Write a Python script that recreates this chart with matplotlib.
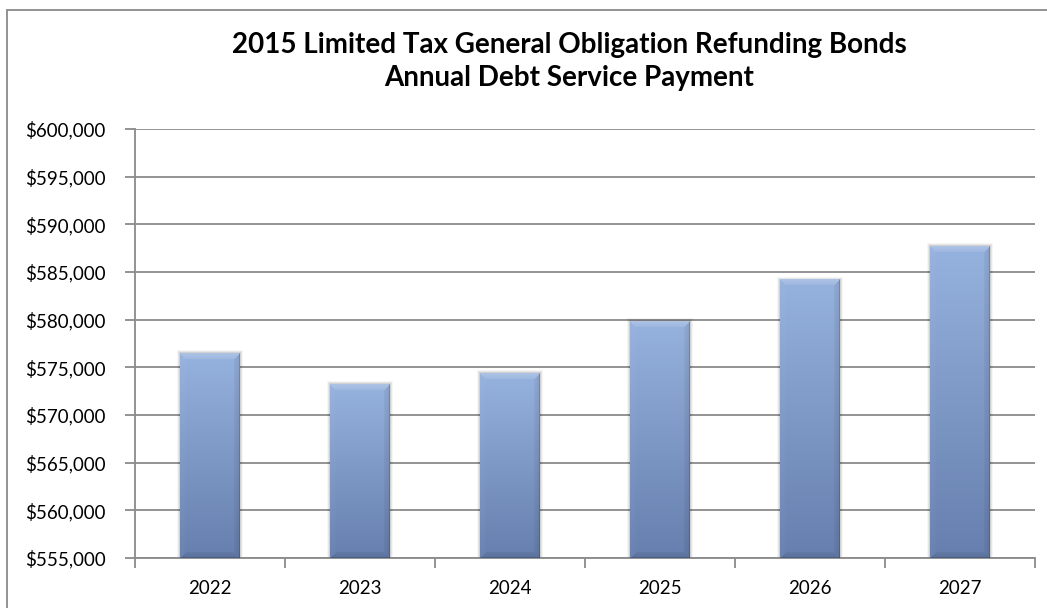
import numpy as np
import matplotlib.pyplot as plt
from matplotlib.patches import Rectangle
from matplotlib.ticker import FuncFormatter, MultipleLocator, FixedLocator

years = ['2022', '2023', '2024', '2025', '2026', '2027']
payments = [576500, 573200, 574400, 579850, 584200, 587700]

y_min, y_max, y_step = 555000, 600000, 5000

title_1 = '2015 Limited Tax General Obligation Refunding Bonds'
title_2 = 'Annual Debt Service Payment'

plt.rcParams['font.family'] = ['Lato', 'DejaVu Sans']

W, H = 1047, 608
grid_grey = '#8a8a8a'


def bar_image(w_px, h_px, bevel=6):
    '''Vertical blue gradient with a bevelled rim, as an RGB array.'''
    u = np.arange(w_px)[None, :] + 0.5
    v = np.arange(h_px)[:, None] + 0.5
    t = (v / h_px)[..., None]
    top_c = np.array([150, 178, 222]) / 255
    bot_c = np.array([102, 127, 174]) / 255
    img = top_c * (1 - t) + bot_c * t
    img = np.broadcast_to(img, (h_px, w_px, 3)).copy()

    dt, dl, dr, db = np.broadcast_arrays(v, u, w_px - u, h_px - v)
    d = np.stack([dt, dl, dr, db])
    nearest = d.argmin(0)
    in_rim = d.min(0) < bevel
    shifts = [0.22, 0.03, -0.10, -0.12]
    for k, s in enumerate(shifts):
        m = in_rim & (nearest == k)
        # fade the rim effect towards the inside of the bar
        fade = 1 - d.min(0)[m] / bevel * 0.6
        if s > 0:
            img[m] = img[m] + (1 - img[m]) * (s * fade)[:, None]
        else:
            img[m] = img[m] * (1 + s * fade)[:, None]
    # thin dark outline on the right and bottom
    img[:, -1] *= 0.85
    img[-1, :] *= 0.85
    return np.clip(img, 0, 1)


fig = plt.figure(figsize=(W / 100, H / 100), dpi=100)
ax = fig.add_axes([135 / W, 1 - 558 / H, 900 / W, (558 - 129) / H])

x = np.arange(len(years))
bar_w = 0.4
plot_h_px = 558 - 129
cat_px = 900 / len(years)

for xi, val in zip(x, payments):
    x0, x1 = xi - bar_w / 2, xi + bar_w / 2
    h_px = int(round((val - y_min) / (y_max - y_min) * plot_h_px))
    w_px = int(round(bar_w * cat_px))
    # soft shadow around the bar
    for k, a in zip([3, 2, 1], [0.04, 0.06, 0.09]):
        dx = k / cat_px
        dy = k * (y_max - y_min) / plot_h_px
        ax.add_patch(Rectangle((x0 - dx, y_min), x1 - x0 + 2 * dx, val - y_min + dy,
            facecolor='k', edgecolor='none', alpha=a, zorder=2))
    ax.imshow(bar_image(w_px, h_px), extent=(x0, x1, y_min, val),
        aspect='auto', interpolation='bilinear', zorder=3)

ax.set_xlim(-0.5, len(years) - 0.5)
ax.set_ylim(y_min, y_max)

ax.yaxis.set_major_locator(MultipleLocator(y_step))
ax.yaxis.set_major_formatter(FuncFormatter(lambda v, _: '${:,.0f}'.format(v)))
ax.grid(axis='y', color=grid_grey, linewidth=1.3, zorder=1)
ax.set_axisbelow(True)

ax.xaxis.set_major_locator(FixedLocator(np.arange(len(years) + 1) - 0.5))
ax.xaxis.set_minor_locator(FixedLocator(x))
ax.set_xticklabels([])
ax.set_xticklabels(years, minor=True)

ax.tick_params(axis='y', direction='out', length=7, width=1.3, color=grid_grey,
    labelsize=13.5, pad=14)
ax.tick_params(axis='x', which='major', direction='out', length=7, width=1.3,
    color=grid_grey)
ax.tick_params(axis='x', which='minor', length=0, labelsize=13.5, pad=16)

for side in ['top', 'right']:
    ax.spines[side].set_visible(False)
for side in ['left', 'bottom']:
    ax.spines[side].set_color(grid_grey)
    ax.spines[side].set_linewidth(1.3)

fig.text(569 / W, 1 - 45 / H, title_1, ha='center', va='center',
    fontsize=20, fontweight='bold')
fig.text(569 / W, 1 - 78 / H, title_2, ha='center', va='center',
    fontsize=20, fontweight='bold')

# chart area border
fig.add_artist(Rectangle((7 / W, -0.05), 1.1, (H - 10) / H + 0.05,
    transform=fig.transFigure, fill=False, edgecolor=grid_grey, linewidth=1.3))

plt.savefig('out.png', dpi=100)
